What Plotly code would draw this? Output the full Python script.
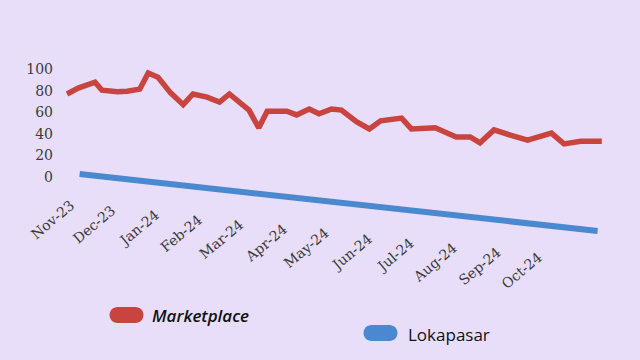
import numpy as np
import pandas as pd
import plotly.graph_objects as go

# ---- data ----
market_dates = ["2023-10-23", "2023-10-31", "2023-11-12", "2023-11-17", "2023-11-28",
                "2023-12-05", "2023-12-14", "2023-12-20", "2023-12-27", "2024-01-05",
                "2024-01-14", "2024-01-21", "2024-01-31", "2024-02-09", "2024-02-16",
                "2024-03-01", "2024-03-08", "2024-03-14", "2024-03-28", "2024-04-04",
                "2024-04-13", "2024-04-20", "2024-04-29", "2024-05-06", "2024-05-17",
                "2024-05-26", "2024-06-03", "2024-06-18", "2024-06-25", "2024-07-12",
                "2024-07-27", "2024-08-06", "2024-08-13", "2024-08-23", "2024-09-03",
                "2024-09-16", "2024-10-03", "2024-10-12", "2024-10-24", "2024-11-08"]
market_values = [77, 82.5, 88, 80.5, 79, 79.5, 81.5, 96.5, 92.5, 78,
                 67, 77, 74, 69.5, 77, 62, 45.5, 61, 61, 57.5,
                 63, 58.5, 63, 62, 51, 44.5, 52, 54.5, 44.5, 45.5,
                 37, 37, 31.5, 43.5, 39, 34, 40.5, 30.5, 33, 33]

loka_dates = ["2023-11-01", "2023-12-01", "2024-01-01", "2024-02-01", "2024-03-01",
              "2024-04-01", "2024-05-01", "2024-06-01", "2024-07-01", "2024-08-01",
              "2024-09-01", "2024-10-01", "2024-11-01", "2024-11-05"]
loka_values = [2.5, -1.8, -6.2, -10.7, -14.8, -19.3, -23.6, -28.0, -32.3, -36.7,
               -41.2, -45.5, -49.9, -50.5]

tick_dates = ["2023-11-01", "2023-12-01", "2024-01-01", "2024-02-01", "2024-03-01",
              "2024-04-01", "2024-05-01", "2024-06-01", "2024-07-01", "2024-08-01",
              "2024-09-01", "2024-10-01"]
tick_labels = ["Nov-23", "Dec-23", "Jan-24", "Feb-24", "Mar-24", "Apr-24",
               "May-24", "Jun-24", "Jul-24", "Aug-24", "Sep-24", "Oct-24"]
y_ticks = [0, 20, 40, 60, 80, 100]

series_names = ["Marketplace", "Lokapasar"]
RED = "#C8443F"
BLUE = "#4A88CF"
BG = "#E8DEFA"

W, H = 640, 360
ML, MR, MT, MB = 60, 20, 40, 100
PW, PH = W - ML - MR, H - MT - MB


def px2paper(px, py):
    return (px - ML) / PW, (H - MB - py) / PH


fig = go.Figure()
fig.add_trace(go.Scatter(x=pd.to_datetime(market_dates), y=market_values, mode="lines",
                         name=series_names[0], line=dict(color=RED, width=5.5),
                         showlegend=False))
fig.add_trace(go.Scatter(x=pd.to_datetime(loka_dates), y=loka_values, mode="lines",
                         name=series_names[1], line=dict(color=BLUE, width=6),
                         showlegend=False))

# slanted x tick labels following the (sheared) axis under the Lokapasar line
ld = pd.to_datetime(loka_dates).map(pd.Timestamp.toordinal).to_numpy()
td = pd.to_datetime(tick_dates)
ty = np.interp(td.map(pd.Timestamp.toordinal).to_numpy(), ld, loka_values) - 19
annotations = []
for d, yv, lab in zip(td, ty, tick_labels):
    annotations.append(dict(x=d, y=yv, xref="x", yref="y", text=lab, showarrow=False,
                            textangle=-40, xanchor="right", yanchor="top",
                            font=dict(family="DejaVu Serif", size=14, color="#3a3a3a")))

# legend (pills + text)
shapes = []
pill_path = ("M -9,-8 L 9,-8 C 13.4,-8 17,-4.4 17,0 C 17,4.4 13.4,8 9,8 L -9,8 "
             "C -13.4,8 -17,4.4 -17,0 C -17,-4.4 -13.4,-8 -9,-8 Z")
legend_items = [
    (series_names[0], RED, (126.5, 315), (150, 315), dict(style="italic", weight=600)),
    (series_names[1], BLUE, (380.5, 333), (406, 334), dict(style="normal", weight=500)),
]
for name, col, pc, tc, fstyle in legend_items:
    ax, ay = px2paper(*pc)
    shapes.append(dict(type="path", path=pill_path, xref="paper", yref="paper",
                       xsizemode="pixel", ysizemode="pixel", xanchor=ax, yanchor=ay,
                       fillcolor=col, line=dict(width=0)))
    tx, tyy = px2paper(*tc)
    annotations.append(dict(x=tx, y=tyy, xref="paper", yref="paper", text=name,
                            showarrow=False, xanchor="left", yanchor="middle",
                            font=dict(family="Open Sans", size=17, color="#111111",
                                      style=fstyle["style"], weight=fstyle["weight"])))

fig.update_layout(
    width=W, height=H,
    margin=dict(l=ML, r=MR, t=MT, b=MB),
    paper_bgcolor=BG, plot_bgcolor=BG,
    annotations=annotations, shapes=shapes,
    xaxis=dict(range=["2023-10-18", "2024-11-21"], showgrid=False, zeroline=False,
               showline=False, showticklabels=False, ticks=""),
    yaxis=dict(range=[-77.5, 127.2], tickvals=y_ticks, showgrid=False, zeroline=False,
               showline=False, ticks="", ticklabelstandoff=6,
               tickfont=dict(family="DejaVu Serif", size=14, color="#3a3a3a")),
)

fig.write_html("out.html",
               config={"displayModeBar": False},
               post_script="document.body.style.margin='0';"
                           "document.body.style.background='" + BG + "';")
